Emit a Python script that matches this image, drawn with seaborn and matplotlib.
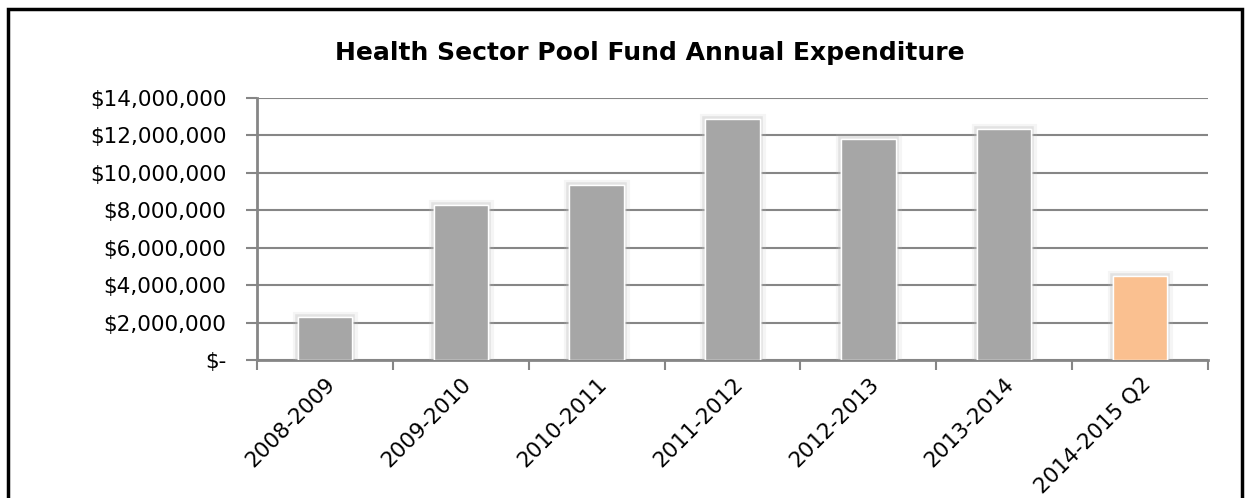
import matplotlib
matplotlib.use("Agg")
import matplotlib.pyplot as plt
import matplotlib.patheffects as pe
from matplotlib.ticker import FuncFormatter, MultipleLocator, FixedLocator
from matplotlib.patches import Rectangle
import seaborn as sns
import pandas as pd

# Data
periods = ["2008-2009", "2009-2010", "2010-2011", "2011-2012",
           "2012-2013", "2013-2014", "2014-2015 Q2"]
expenditure = [2300000, 8280000, 9350000, 12880000, 11800000, 12350000, 4490000]
bar_colors = ["#A6A6A6", "#A6A6A6", "#A6A6A6", "#A6A6A6", "#A6A6A6", "#A6A6A6", "#FAC090"]
title_text = "Health Sector Pool Fund Annual Expenditure"

sns.set_theme(style="white")
plt.rcParams["font.family"] = ["DejaVu Sans"]

fig = plt.figure(figsize=(12.48, 4.98), dpi=100)
ax = fig.add_axes([257/1248, 1-360/498, (1208-257)/1248, (360-98)/498])

df = pd.DataFrame({"period": periods, "value": expenditure})
sns.barplot(data=df, x="period", y="value", hue="period", palette=bar_colors,
            legend=False, width=0.4, saturation=1, ax=ax, zorder=3)

for p in ax.patches:
    p.set_path_effects([pe.withStroke(linewidth=8, foreground="#bfbfbf", alpha=0.15),
                        pe.withStroke(linewidth=4, foreground="#bfbfbf", alpha=0.35),
                        pe.Normal()])

ax.set_xlim(-0.5, len(periods) - 0.5)
ax.set_ylim(0, 14000000)
ax.yaxis.set_major_locator(MultipleLocator(2000000))
ax.yaxis.set_major_formatter(FuncFormatter(lambda v, _: "$-" if v == 0 else f"${v:,.0f}"))
ax.grid(axis="y", color="#868686", linewidth=1.5, zorder=0)
ax.set_axisbelow(True)
ax.set_xlabel("")
ax.set_ylabel("")

for s in ["top", "right"]:
    ax.spines[s].set_visible(False)
for s in ["left", "bottom"]:
    ax.spines[s].set_color("#868686")
    ax.spines[s].set_linewidth(2)

ax.tick_params(axis="y", which="major", left=True, length=8, width=1.5, color="#868686",
               labelsize=15.5, pad=14, labelcolor="black")
ax.tick_params(axis="x", which="major", bottom=False, labelsize=15.5, pad=4, labelcolor="black")
ax.xaxis.set_minor_locator(FixedLocator([i - 0.5 for i in range(len(periods) + 1)]))
ax.tick_params(axis="x", which="minor", bottom=True, length=7, width=1.5, color="#868686")

for lbl in ax.get_xticklabels():
    lbl.set_rotation(45)
    lbl.set_ha("right")
    lbl.set_rotation_mode("anchor")

fig.text(650/1248, 1-53/498, title_text, ha="center", va="center",
         fontsize=18, fontweight="bold", color="black")

# outer frame (bottom edge is off-canvas)
fig.patches.append(Rectangle((8/1248, -0.05), (1242-8)/1248, 1.05 - 9/498,
                             transform=fig.transFigure, fill=False,
                             edgecolor="black", linewidth=2.5))

fig.savefig("out.png", dpi=100)
